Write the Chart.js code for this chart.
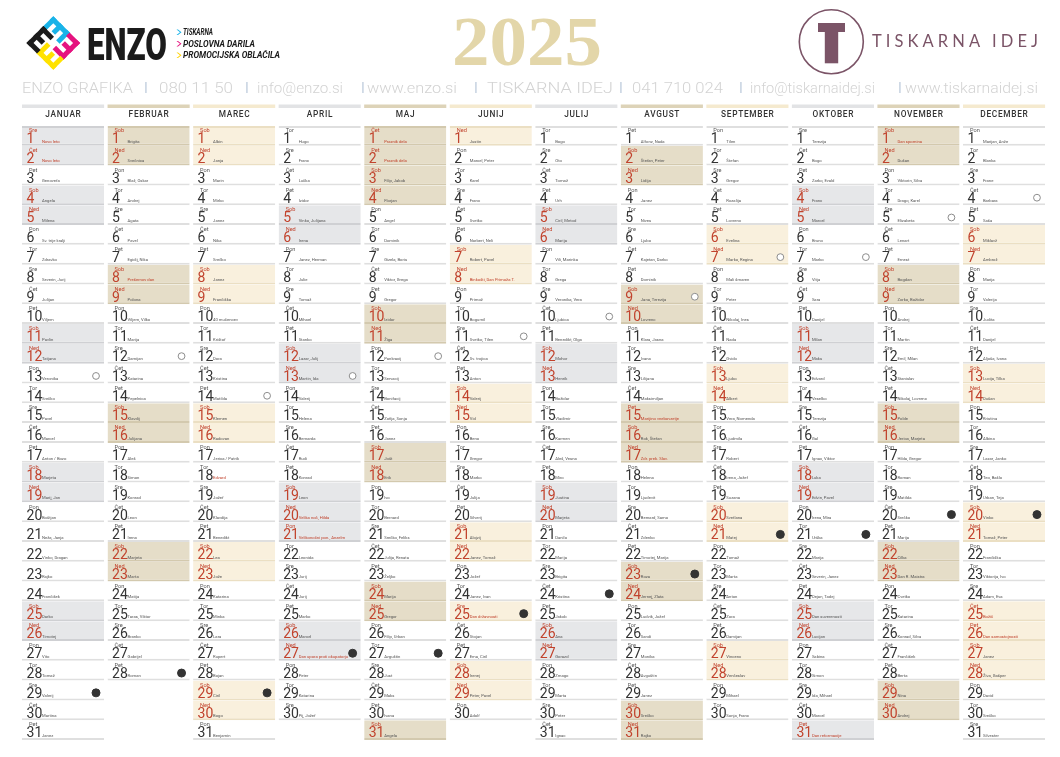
<!DOCTYPE html>
<html lang="sl">
<head>
<meta charset="utf-8">
<title>Koledar 2025</title>
<script src="https://cdn.jsdelivr.net/npm/chart.js@4.4.1/dist/chart.umd.min.js"></script>
<style>
  html,body{margin:0;padding:0;background:#fff;}
  #wrap{position:relative;width:1060px;height:757px;background:#fff;overflow:hidden;}
  #c{position:absolute;left:0;top:0;}
  #hdr{position:absolute;left:0;top:0;}
</style>
</head>
<body>
<div id="wrap">
<canvas id="c" width="1060" height="757"></canvas>
<svg id="hdr" width="1060" height="100" xmlns="http://www.w3.org/2000/svg">
  <defs>
    <g id="eg">
      <rect x="0" y="0" width="24" height="5"/>
      <rect x="0" y="0" width="5" height="15"/>
      <rect x="9.5" y="0" width="5" height="12"/>
      <rect x="19" y="0" width="5" height="15"/>
    </g>
  </defs>
  <g transform="translate(53.3,43) rotate(45)">
    <use href="#eg" transform="translate(-19,-19)" fill="#19b3e8"/>
    <use href="#eg" transform="rotate(90) translate(-19,-19)" fill="#e5137f"/>
    <use href="#eg" transform="rotate(180) translate(-19,-19)" fill="#ffe200"/>
    <use href="#eg" transform="rotate(270) translate(-19,-19)" fill="#1b1b1b"/>
  </g>
  <text x="87" y="60" font-family="Roboto" font-weight="900" font-size="44.5" fill="#1b1b1b" textLength="80" lengthAdjust="spacingAndGlyphs">ENZO</text>
  <polygon points="176.5,29.5 180,32.2 176.5,35 178,35 181.5,32.2 178,29.5" fill="#19b3e8"/>
  <polygon points="176.5,41 180,43.7 176.5,46.5 178,46.5 181.5,43.7 178,41" fill="#e5137f"/>
  <polygon points="176.5,52.5 180,55.2 176.5,58 178,58 181.5,55.2 178,52.5" fill="#ffd200"/>
  <text x="183" y="35" font-family="Roboto" font-style="italic" font-weight="700" font-size="8.6" fill="#1b1b1b" textLength="30" lengthAdjust="spacingAndGlyphs">TISKARNA</text>
  <text x="183" y="46.6" font-family="Roboto" font-style="italic" font-weight="700" font-size="8.6" fill="#1b1b1b" textLength="72" lengthAdjust="spacingAndGlyphs">POSLOVNA DARILA</text>
  <text x="183" y="58.2" font-family="Roboto" font-style="italic" font-weight="700" font-size="8.6" fill="#1b1b1b" textLength="97" lengthAdjust="spacingAndGlyphs">PROMOCIJSKA OBLAČILA</text>

  <text x="452" y="65" font-family="Liberation Serif" font-weight="700" font-size="70" fill="#e3d6a9" textLength="150" lengthAdjust="spacingAndGlyphs">2025</text>

  <circle cx="831.3" cy="41.7" r="32" fill="none" stroke="#7b5467" stroke-width="1.6"/>
  <rect x="818" y="23" width="27" height="9" fill="#7b5467"/>
  <rect x="824.8" y="31" width="13.4" height="32.3" fill="#7b5467"/>
  <text x="872" y="46.7" font-family="Lato" font-size="16.5" fill="#7b5467" textLength="166" lengthAdjust="spacing">TISKARNA IDEJ</text>

  <g font-family="Roboto" font-weight="300" font-size="15.5" fill="#d3d3d3">
    <text x="22" y="93" textLength="111" lengthAdjust="spacingAndGlyphs">ENZO GRAFIKA</text>
    <text x="159" y="93" textLength="74" lengthAdjust="spacingAndGlyphs">080 11 50</text>
    <text x="257" y="93" textLength="86" lengthAdjust="spacingAndGlyphs">info@enzo.si</text>
    <text x="367" y="93" textLength="90" lengthAdjust="spacingAndGlyphs">www.enzo.si</text>
    <text x="487" y="93" textLength="126" lengthAdjust="spacingAndGlyphs">TISKARNA IDEJ</text>
    <text x="632" y="93" textLength="91" lengthAdjust="spacingAndGlyphs">041 710 024</text>
    <text x="750" y="93" textLength="125" lengthAdjust="spacingAndGlyphs">info@tiskarnaidej.si</text>
    <text x="905" y="93" textLength="133" lengthAdjust="spacingAndGlyphs">www.tiskarnaidej.si</text>
  </g>
  <g font-family="Roboto" font-weight="400" font-size="14" fill="#c2cfde">
    <text x="144" y="92.5">I</text>
    <text x="245" y="92.5">I</text>
    <text x="361" y="92.5">I</text>
    <text x="474" y="92.5">I</text>
    <text x="619" y="92.5">I</text>
    <text x="739" y="92.5">I</text>
    <text x="898" y="92.5">I</text>
  </g>
</svg>
</div>
<script>
// ---------- DATA ----------
const MONTHS = ['JANUAR','FEBRUAR','MAREC','APRIL','MAJ','JUNIJ','JULIJ','AVGUST','SEPTEMBER','OKTOBER','NOVEMBER','DECEMBER'];
const DAYS_IN_MONTH = [31,28,31,30,31,30,31,31,30,31,30,31];
const WEEKDAYS = ['Ned','Pon','Tor','Sre','Čet','Pet','Sob'];
// work-free days that do not fall on a weekend (shaded like weekends)
const HOLIDAYS = [[1,2],[],[],[21],[1,2],[25],[],[15],[],[31],[],[25,26]];
// name-day texts printed in red
const RED_NAMES = [[1,2],[8],[18],[20,21,27],[1,2],[8,25],[],[15,17],[],[31],[1],[25,26]];
// cells printed without a weekday label
const NO_WEEKDAY = [[21,22,23,24],[],[],[],[],[],[],[],[],[],[],[]];
// moon phases: open circle (full moon) and filled dot (new moon)
const FULL_MOON = [13,12,14,13,12,11,10,9,7,7,5,4];
const NEW_MOON  = [29,28,29,27,27,25,24,23,21,21,20,20];

const NAMES_JAN = ['Novo leto','Novo leto','Genovefa','Angela','Milena','Sv. trije kralji','Zdravko','Severin, Jurij','Julijan','Viljem','Pavlin','Tatjana','Veronika','Srečko','Pavel','Marcel','Anton / Bozo','Marjeta','Marij, Jan','Boštjan','Neža, Janja','Vinko, Dragan','Rajko','Frančišek','Darko','Timotej','Vito','Tomaž','Valerij','Martina','Janez'];
const NAMES_FEB = ['Brigita','Svečnica','Blaž, Oskar','Andrej','Agata','Pavel','Egidij, Nika','Prešernov dan','Polona','Viljem, Vilko','Marija','Damijan','Katarina','Pepelnica','Klavdij','Julijana','Aleš','Simon','Konrad','Leon','Irena','Marjeta','Marta','Matija','Taras, Viktor','Branko','Gabrijel','Roman'];
const NAMES_MAR = ['Albin','Janja','Marin','Mirko','Janez','Nika','Srečko','Janez','Frančiška','40 mučencev','Krištof','Dora','Kristina','Matilda','Klemen','Radovan','Jerica / Patrik','Edvard','Jožef','Klavdija','Benedikt','Lea','Jože','Katarina','Minka','Lara','Rupert','Bojan','Ciril','Bogo','Benjamin'];
const NAMES_APR = ['Hugo','Franc','Lučka','Izidor','Vinko, Julijana','Irena','Janez, Herman','Julie','Tomaž','Mihael','Stanko','Lazar, Julij','Martin, Ida','Valerij','Helena','Bernarda','Rudi','Konrad','Leon','Velika noč, Hilda','Velikonočni pon., Anzelm','Leonida','Jurij','Jurij','Marko','Marcel','Dan upora proti okupatorju','Peter','Katarina','Pij, Jožef'];
const NAMES_MAY = ['Praznik dela','Praznik dela','Filip, Jakob','Florjan','Angel','Dominik','Gizela, Boris','Viktor, Grega','Gregor','Izidor','Žiga','Pankracij','Servacij','Bonifacij','Zofija, Sonja','Janez','Jošt','Erik','Ivo','Bernard','Srečko, Feliks','Julija, Renata','Željko','Marija','Gregor','Filip, Urban','Avguštin','Just','Maks','Ivana','Angela'];
const NAMES_JUN = ['Justin','Marcel, Peter','Karel','Franc','Svetko','Norbert, Neli','Robert, Pavel','Binkošti, Dan Primoža T.','Primož','Bogumil','Svetko, Tilen','Sv. trojica','Anton','Valerij','Vid','Beno','Gregor','Marko','Julija','Silverij','Alojzij','Janez, Tomaž','Jožef','Janez, Ivan','Dan državnosti','Stojan','Ema, Ciril','Irenej','Peter, Pavel','Adolf'];
const NAMES_JUL = ['Bogo','Oto','Tomaž','Urh','Ciril, Metod','Marija','Vili, Marinka','Grega','Veronika, Vera','Ljubica','Benedikt, Olga','Mohor','Henrik','Božidar','Vladimir','Karmen','Aleš, Vesna','Miro','Justina','Marjeta','Danilo','Marija','Brigita','Kristina','Jakob','Ana','Gorazd','Zmago','Marta','Peter','Ignac'];
const NAMES_AUG = ['Alfonz, Nada','Štefan, Peter','Lidija','Janez','Nives','Ljubo','Kajetan, Darko','Dominik','Jana, Terezija','Lovrenc','Klara, Jasna','Ivana','Lilijana','Maksimiljan','Marijino vnebovzetje','Rok, Štefan','Zdr. prek. Slov.','Helena','Ljudevit','Bernard, Samo','Zdenko','Timotej, Marija','Roza','Jernej, Zlata','Ludvik, Jožef','Sandi','Monika','Avguštin','Janez','Srečko','Rajko'];
const NAMES_SEP = ['Tilen','Štefan','Gregor','Rozalija','Lovrenc','Evelina','Marko, Regina','Mali šmaren','Peter','Nikolaj, Ines','Nada','Gvido','Ljubo','Albert','Vera, Nomenda','Ljudmila','Robert','Irena, Jožef','Suzana','Svetlana','Matej','Tomaž','Marta','Anton','Zora','Damijan','Vincenc','Venčeslav','Mihael','Sonja, Franc'];
const NAMES_OCT = ['Terezija','Bogo','Zarko, Evald','Franc','Marcel','Bruno','Marko','Vitja','Sara','Danijel','Milan','Maks','Edvard','Veselko','Terezija','Gal','Ignac, Viktor','Luka','Edvin, Pavel','Irena, Mira','Urška','Marija','Severin, Janez','Dejan, Tadej','Dan suverenosti','Lucijan','Sabina','Simon','Ida, Mihael','Marcel','Dan reformacije'];
const NAMES_NOV = ['Dan spomina','Dušan','Viktorin, Silva','Drago, Karel','Elizabeta','Lenart','Ernest','Bogdan','Zorko, Božidar','Andrej','Martin','Emil, Milan','Stanislav','Nikolaj, Lovrenc','Polde','Jerica, Marjeta','Hilda, Gregor','Roman','Matilda','Srečko','Marija','Cilka','Dan R. Maistra','Cvetko','Katarina','Konrad, Silva','Frančišek','Berta','Nina','Andrej'];
const NAMES_DEC = ['Marijan, Anže','Blanka','Frane','Barbara','Saša','Miklavž','Ambrož','Marija','Valerija','Judita','Danijel','Aljoša, Ivana','Lucija, Tilka','Dušan','Kristina','Albina','Lazar, Janko','Teo, Bašlo','Urban, Teja','Vinko','Tomaž, Peter','Frančiška','Viktorija, Ivo','Adam, Eva','Božič','Dan samostojnosti','Janez','Živa, Gašper','David','Srečko','Silvester'];
const NAMES = [NAMES_JAN,NAMES_FEB,NAMES_MAR,NAMES_APR,NAMES_MAY,NAMES_JUN,NAMES_JUL,NAMES_AUG,NAMES_SEP,NAMES_OCT,NAMES_NOV,NAMES_DEC];

// ---------- STYLE ----------
const THEMES = ['gray','tan','cream'];
const CELL  = {gray:'#e6e7e9', tan:'#e5ddc8', cream:'#f9f0dd'};
const LINE  = {gray:'#cfd0d3', tan:'#d3c9ae', cream:'#ebdfc3', white:'#dfdfdf'};
const STRIP = {gray:'#e2e3e5', tan:'#ddd3b8', cream:'#f5eacf'};
const RED = '#c1432d';

const theme = m => THEMES[m % 3];
const weekday = (m, d) => new Date(2025, m, d).getDay();
const isShaded = (m, d) => { const w = weekday(m, d); return w === 0 || w === 6 || HOLIDAYS[m].includes(d); };

// ---------- DATASETS ----------
const barSets = MONTHS.map((mn, m) => ({
  type: 'bar',
  order: 1,
  label: mn,
  data: Array.from({length: DAYS_IN_MONTH[m]}, (_, i) => ({x: mn, y: [i + 0.5, i + 1.5]})),
  backgroundColor: c => isShaded(m, c.dataIndex + 1) ? CELL[theme(m)] : '#ffffff',
  borderColor: c => isShaded(m, c.dataIndex + 1) ? LINE[theme(m)] : LINE.white,
  borderWidth: c => ({top: c.dataIndex === 0 ? 2 : 0, bottom: 2, left: 0, right: 0}),
  borderSkipped: false,
  inflateAmount: 0,
  grouped: false,
  categoryPercentage: 1,
  barPercentage: 0.96
}));

const moonData = [];
FULL_MOON.forEach((d, m) => moonData.push({x: m + 0.385, y: d + 0.12, full: true}));
NEW_MOON.forEach((d, m) => moonData.push({x: m + 0.385, y: d + 0.12, full: false}));

const moonSet = {
  type: 'scatter',
  order: 0,
  label: 'Luna',
  xAxisID: 'x2',
  yAxisID: 'y',
  data: moonData,
  pointRadius: c => c.raw.full ? 3.4 : 4,
  pointBackgroundColor: c => c.raw.full ? '#ffffff' : '#333333',
  pointBorderColor: c => c.raw.full ? '#8d8d8d' : '#333333',
  pointBorderWidth: 1
};

// ---------- TEXT PLUGIN ----------
const calendarText = {
  id: 'calendarText',
  afterDatasetsDraw(chart) {
    const ctx = chart.ctx;
    const y = chart.scales.y;
    const x = chart.scales.x;
    ctx.save();
    MONTHS.forEach((mn, m) => {
      const meta = chart.getDatasetMeta(m + 1);
      // month header strip + name
      const first = meta.data[0];
      const L0 = first.x - first.width / 2;
      ctx.fillStyle = STRIP[theme(m)];
      ctx.fillRect(L0, 104.5, first.width, 3.5);
      ctx.fillStyle = '#333';
      ctx.font = '500 8.3px Roboto';
      ctx.textAlign = 'center';
      ctx.textBaseline = 'alphabetic';
      try { ctx.letterSpacing = '0.7px'; } catch(e) {}
      ctx.fillText(mn, x.getPixelForValue(m) + 0.35, 117);
      try { ctx.letterSpacing = '0px'; } catch(e) {}
      ctx.textAlign = 'left';

      meta.data.forEach((bar, i) => {
        const d = i + 1;
        const L = bar.x - bar.width / 2;
        const T = y.getPixelForValue(d - 0.5);
        const B = y.getPixelForValue(d + 0.5);
        const shaded = isShaded(m, d);
        if (!NO_WEEKDAY[m].includes(d)) {
          ctx.font = '400 5.6px Roboto';
          ctx.textBaseline = 'middle';
          ctx.fillStyle = shaded ? RED : '#555';
          ctx.fillText(WEEKDAYS[weekday(m, d)], L + 7, T + 4.8);
        }
        ctx.textBaseline = 'alphabetic';
        ctx.font = '400 14px Roboto';
        ctx.fillStyle = shaded ? RED : '#333';
        ctx.fillText(String(d), L + 4.5, B - 2.6);
        ctx.font = '400 4.2px Roboto';
        ctx.fillStyle = RED_NAMES[m].includes(d) ? RED : '#555';
        ctx.fillText(NAMES[m][i], L + 20, B - 3.2);
      });
    });
    ctx.restore();
  }
};

function build() {
  new Chart(document.getElementById('c'), {
    type: 'bar',
    data: { labels: MONTHS, datasets: [moonSet, ...barSets] },
    options: {
      responsive: false,
      animation: false,
      events: [],
      layout: { padding: { left: 20.3, right: 13.2, top: 126, bottom: 17 } },
      plugins: { legend: { display: false }, tooltip: { enabled: false } },
      scales: {
        x: { type: 'category', labels: MONTHS, display: false, offset: true },
        x2: { type: 'linear', min: -0.5, max: 11.5, display: false, offset: false, grid: { offset: false } },
        y: { type: 'linear', min: 0.5, max: 31.5, reverse: true, display: false, offset: false }
      }
    },
    plugins: [calendarText]
  });
}

if (document.fonts && document.fonts.load) {
  Promise.all([
    document.fonts.load('400 14px Roboto'),
    document.fonts.load('500 8px Roboto')
  ]).then(build, build);
} else {
  build();
}
</script>
</body>
</html>
